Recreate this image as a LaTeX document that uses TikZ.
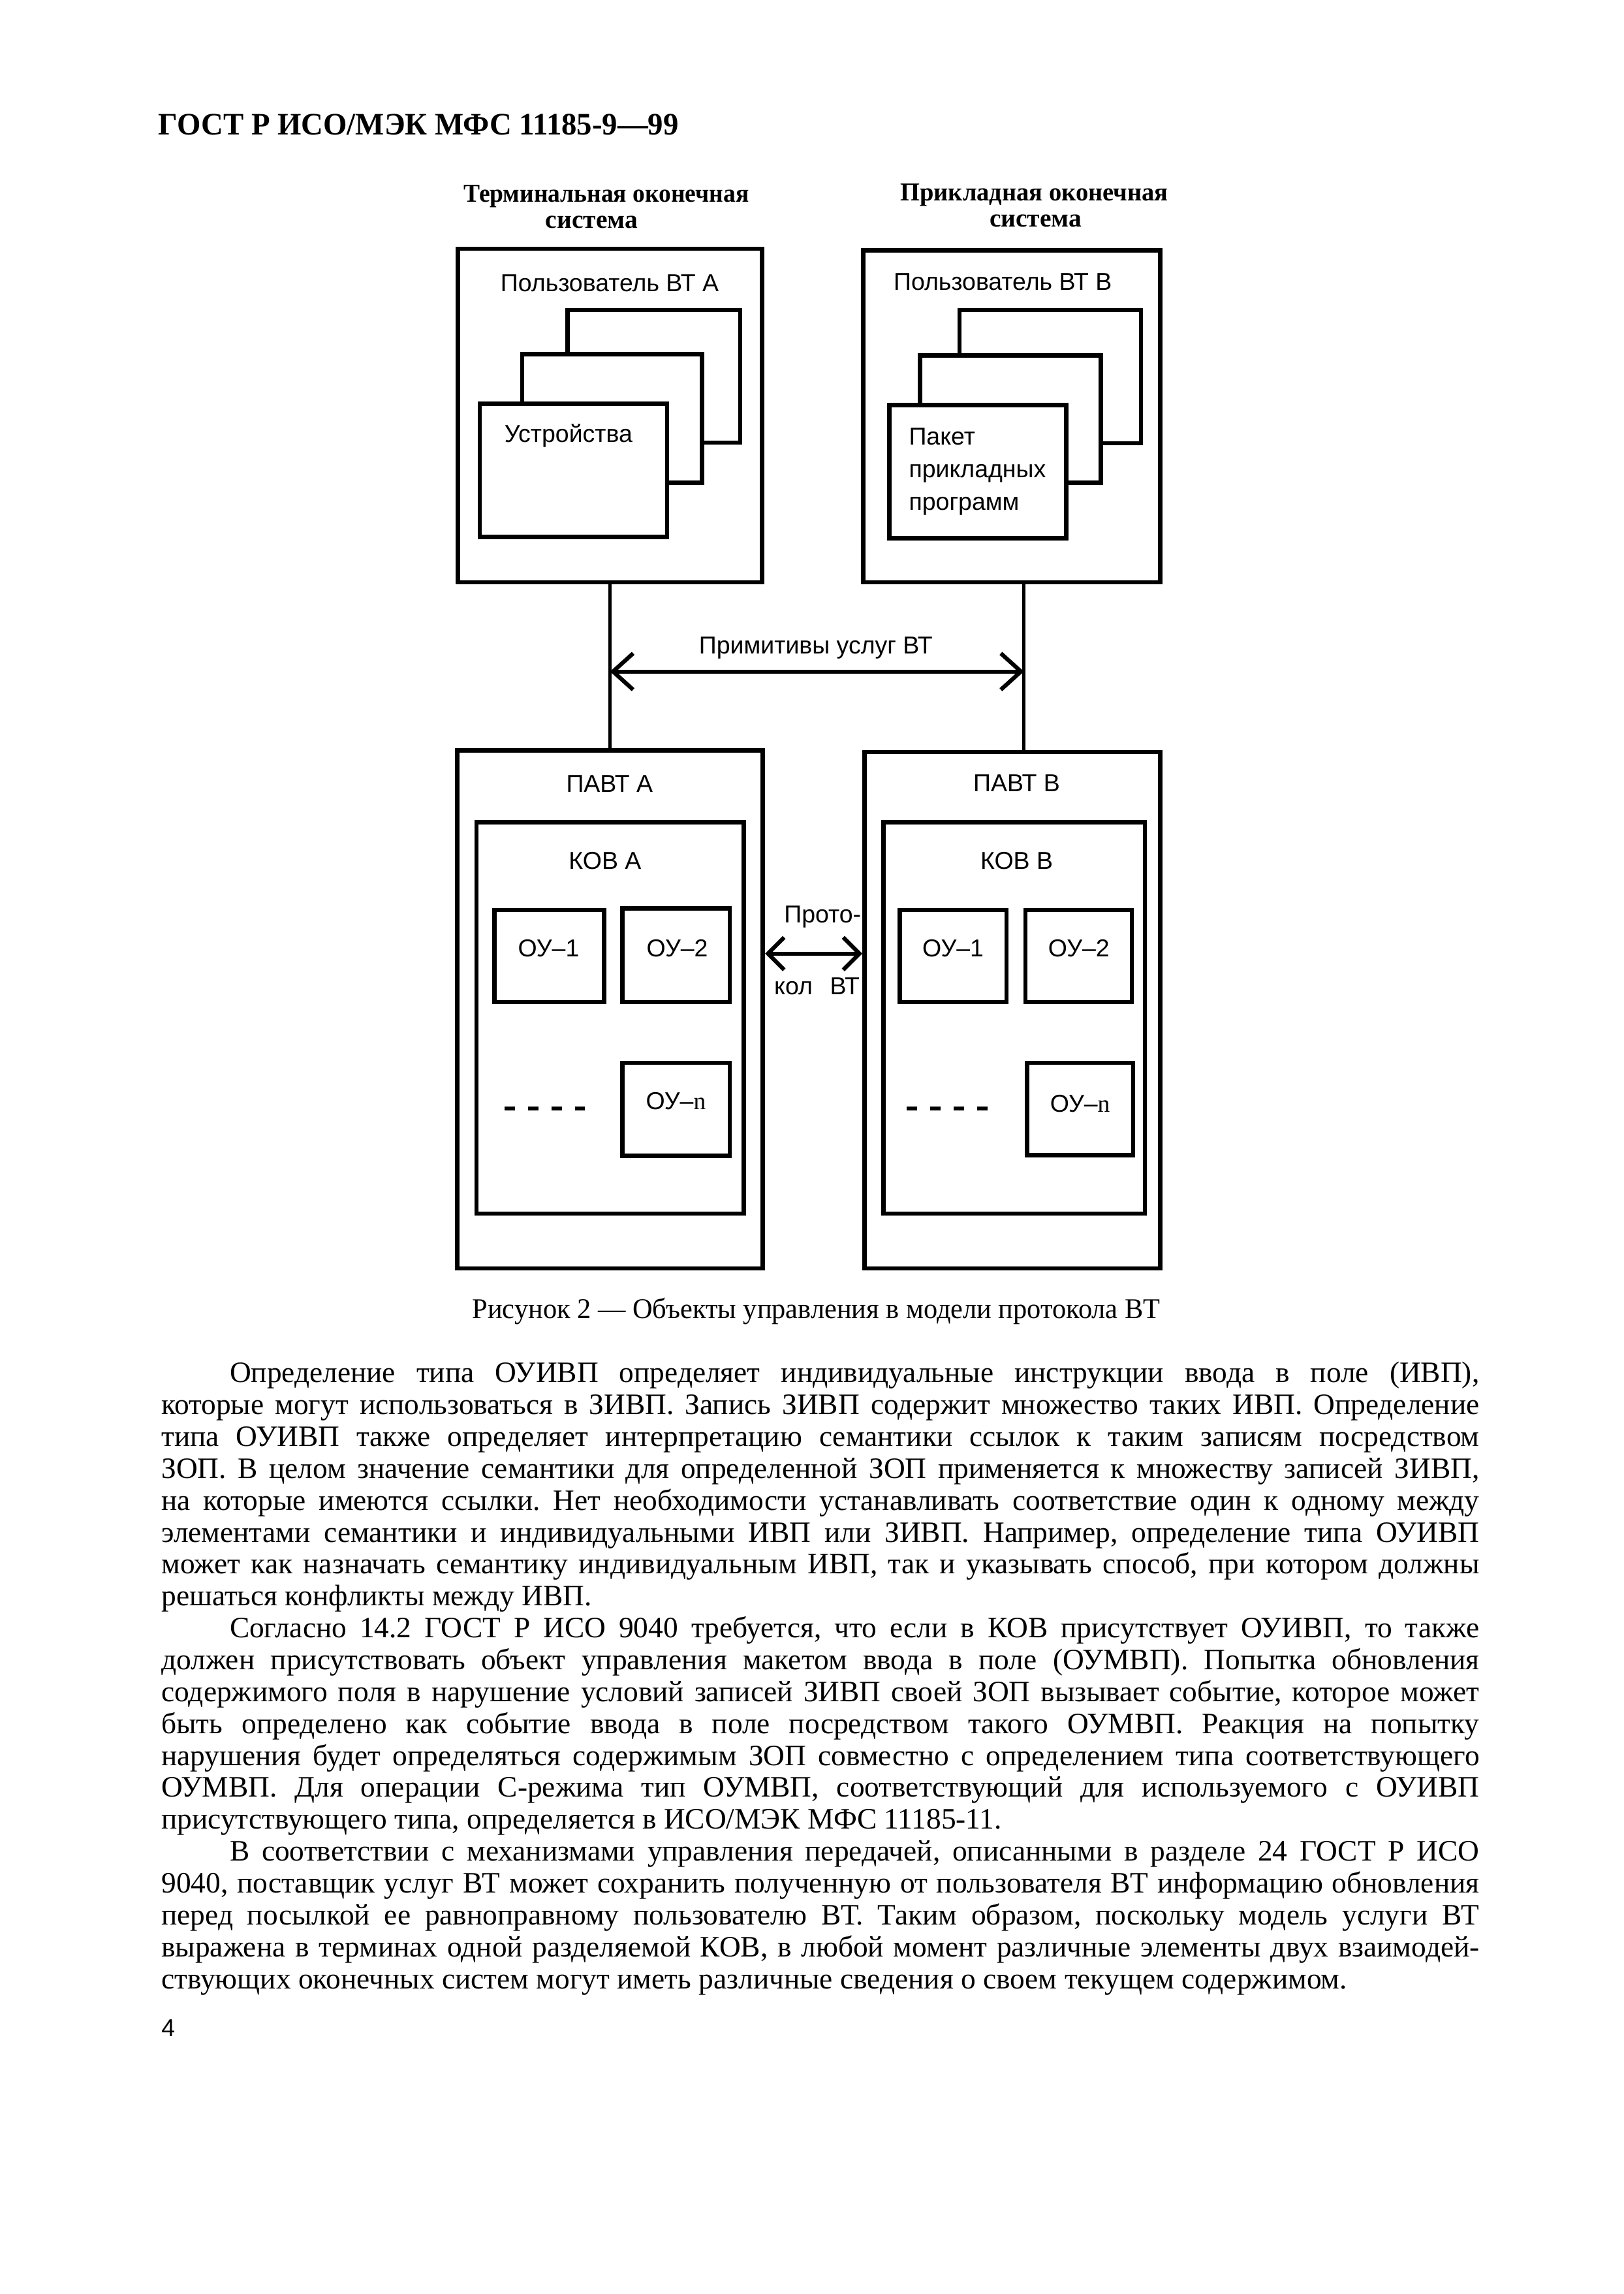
\documentclass[tikz,border=0pt]{standalone}
\usepackage{fontspec}
\setmainfont{Liberation Serif}
\setsansfont{Liberation Sans}
\usepackage{graphicx}
\usetikzlibrary{arrows.meta,fit}
\frenchspacing
\newlength\twfull \setlength\twfull{170.46mm}
\newlength\twind \setlength\twind{161.62mm}
\newsavebox\lnbox
\newcommand\jl[2]{\sbox\lnbox{#2}\ifdim\wd\lnbox>#1\relax\resizebox{#1}{\height}{\usebox\lnbox}\else\makebox[#1][s]{#2}\fi}
\newcommand\fitw[2]{\resizebox{#1}{\height}{#2}}
\begin{document}
\begin{tikzpicture}[x=0.18919mm,y=-0.18919mm,
  box/.style={draw,line width=1.6pt,inner sep=0pt,fill=white},
  conn/.style={line width=1.2pt},
  arr/.style={line width=1.5pt,{Straight Barb[length=2.6mm,width=4.7mm]}-{Straight Barb[length=2.6mm,width=4.7mm]}},
  parr/.style={line width=1.5pt,{Straight Barb[length=2.1mm,width=4.2mm]}-{Straight Barb[length=2.1mm,width=4.2mm]}},
  lab/.style={font=\sffamily\fontsize{9}{11}\selectfont,inner sep=0pt},
  hd/.style={font=\bfseries\fontsize{9.5}{11}\selectfont,inner sep=0pt,anchor=base},
  body/.style={font=\fontsize{10.9}{12}\selectfont,inner sep=0pt,anchor=base west}]
\useasboundingbox (0,0) rectangle (1110,1568);
\fill[white] (0,0) rectangle (1110,1568);

% page header
\node[inner sep=0pt,anchor=base west,font=\bfseries\fontsize{11.5}{13}\selectfont] (gost) at (108,92.2) {\fitw{67.27mm}{ГОСТ Р ИСО/МЭК МФС 11185-9—99}};

% column headers
\node[hd] (hA1) at (414.5,138.3) {\fitw{36.89mm}{Терминальная оконечная}};
\node[hd] (hA2) at (404.5,156) {система};
\node[hd] (hB1) at (707,137) {\fitw{34.62mm}{Прикладная оконечная}};
\node[hd] (hB2) at (708,155) {система};

% user boxes
\node[box,fit={(313,170) (521,398)}] (userA) {};
\node[box,fit={(590,171) (793,398)}] (userB) {};
\node[lab,anchor=base] (uAt) at (416.8,199.4) {Пользователь ВТ А};
\node[lab,anchor=base] (uBt) at (685.5,198.5) {Пользователь ВТ В};

% stacked boxes A
\node[box,fit={(388,212) (506,302.5)}] (sA3) {};
\node[box,fit={(357,242) (480,330)}] (sA2) {};
\node[box,fit={(328,276) (456,367)}] (sA1) {};
\node[lab,anchor=base west] (dev) at (344.5,302.5) {Устройства};

% stacked boxes B
\node[box,fit={(656,212) (780,303)}] (sB3) {};
\node[box,fit={(629,243) (752.5,330)}] (sB2) {};
\node[box,fit={(608,277) (729,368)}] (sB1) {};
\node[lab,anchor=base west] (pk1) at (621,304.3) {Пакет};
\node[lab,anchor=base west] (pk2) at (621,326.6) {прикладных};
\node[lab,anchor=base west] (pk3) at (621,348.7) {программ};

% PAVT boxes
\node[box,fit={(312.5,513) (521.5,867)}] (pavtA) {};
\node[box,fit={(591,514) (793,867)}] (pavtB) {};
\node[lab,anchor=base] (pAt) at (416.7,541.3) {ПАВТ А};
\node[lab,anchor=base] (pBt) at (695,541) {ПАВТ В};

% KOV boxes
\node[box,fit={(325.7,562) (508.4,829.5)}] (kovA) {};
\node[box,fit={(604,562) (782.6,829.5)}] (kovB) {};
\node[lab,anchor=base] (kAt) at (413.6,594) {КОВ А};
\node[lab,anchor=base] (kBt) at (695,594) {КОВ В};

% OY boxes A
\node[box,fit={(338,622) (413,685)}] (a1) {};
\node[box,fit={(425.6,621) (498.8,685)}] (a2) {};
\node[box,fit={(425.6,726.5) (498.8,790)}] (an) {};
\node[lab,anchor=base] (a1t) at (375,654) {ОУ–1};
\node[lab,anchor=base] (a2t) at (463,654) {ОУ–2};
\node[lab,anchor=base] (ant) at (462,758.5) {ОУ–{\rmfamily n}};
\coordinate (dA1) at (345,757.6);
\coordinate (dA2) at (401,757.6);
\draw[line width=1.3pt,dash pattern=on 1.34mm off 1.68mm] (dA1) -- (dA2);

% OY boxes B
\node[box,fit={(615,622) (688,685)}] (b1) {};
\node[box,fit={(701,622) (773.7,685)}] (b2) {};
\node[box,fit={(702,726.5) (774.6,789.5)}] (bn) {};
\node[lab,anchor=base] (b1t) at (651.5,654) {ОУ–1};
\node[lab,anchor=base] (b2t) at (737.5,654) {ОУ–2};
\node[lab,anchor=base] (bnt) at (738.3,760) {ОУ–{\rmfamily n}};
\coordinate (dB1) at (620,757.6);
\coordinate (dB2) at (676,757.6);
\draw[line width=1.3pt,dash pattern=on 1.34mm off 1.68mm] (dB1) -- (dB2);

% connectors
\coordinate (cA) at (417,0);
\coordinate (cB) at (700,0);
\coordinate (ay) at (0,459);
\coordinate (py) at (0,651.8);
\draw[conn] (userA.south -| cA) -- (pavtA.north -| cA);
\draw[conn] (userB.south -| cB) -- (pavtB.north -| cB);
\draw[arr] (cA |- ay) -- (cB |- ay);
\node[lab,anchor=base] (prim) at (557.7,447) {Примитивы услуг ВТ};
\draw[parr] (pavtA.east |- py) -- (pavtB.west |- py);
\node[lab,anchor=base east] (pr1) at (589,630.8) {Прото-};
\node[lab,anchor=base east] (pr2) at (588,680) {кол\hspace{6.4pt}ВТ};

% caption
\node[inner sep=0pt,anchor=base,font=\fontsize{10.5}{12}\selectfont] (cap) at (557.9,901) {\fitw{88.92mm}{Рисунок 2 — Объекты управления в модели протокола ВТ}};

% paragraph 1
\node[body] (l1) at (156.7,945.0) {\jl{\twind}{Определение типа ОУИВП определяет индивидуальные инструкции ввода в поле (ИВП),}};
\node[body] (l2) at (110,966.8) {\jl{\twfull}{которые могут использоваться в ЗИВП. Запись ЗИВП содержит множество таких ИВП. Определение}};
\node[body] (l3) at (110,988.6) {\jl{\twfull}{типа ОУИВП также определяет интерпретацию семантики ссылок к таким записям посредством}};
\node[body] (l4) at (110,1010.4) {\jl{\twfull}{ЗОП. В целом значение семантики для определенной ЗОП применяется к множеству записей ЗИВП,}};
\node[body] (l5) at (110,1032.2) {\jl{\twfull}{на которые имеются ссылки. Нет необходимости устанавливать соответствие один к одному между}};
\node[body] (l6) at (110,1054.0) {\jl{\twfull}{элементами семантики и индивидуальными ИВП или ЗИВП. Например, определение типа ОУИВП}};
\node[body] (l7) at (110,1075.8) {\jl{\twfull}{может как назначать семантику индивидуальным ИВП, так и указывать способ, при котором должны}};
\node[body] (l8) at (110,1097.6) {решаться конфликты между ИВП.};

% paragraph 2
\node[body] (l9) at (156.7,1119.4) {\jl{\twind}{Согласно 14.2 ГОСТ Р ИСО 9040 требуется, что если в КОВ присутствует ОУИВП, то также}};
\node[body] (l10) at (110,1141.2) {\jl{\twfull}{должен присутствовать объект управления макетом ввода в поле (ОУМВП). Попытка обновления}};
\node[body] (l11) at (110,1163.0) {\jl{\twfull}{содержимого поля в нарушение условий записей ЗИВП своей ЗОП вызывает событие, которое может}};
\node[body] (l12) at (110,1184.8) {\jl{\twfull}{быть определено как событие ввода в поле посредством такого ОУМВП. Реакция на попытку}};
\node[body] (l13) at (110,1206.6) {\jl{\twfull}{нарушения будет определяться содержимым ЗОП совместно с определением типа соответствующего}};
\node[body] (l14) at (110,1228.4) {\jl{\twfull}{ОУМВП. Для операции С-режима тип ОУМВП, соответствующий для используемого с ОУИВП}};
\node[body] (l15) at (110,1250.2) {присутствующего типа, определяется в ИСО/МЭК МФС 11185-11.};

% paragraph 3
\node[body] (l16) at (156.7,1272.0) {\jl{\twind}{В соответствии с механизмами управления передачей, описанными в разделе 24 ГОСТ Р ИСО}};
\node[body] (l17) at (110,1293.8) {\jl{\twfull}{9040, поставщик услуг ВТ может сохранить полученную от пользователя ВТ информацию обновления}};
\node[body] (l18) at (110,1315.6) {\jl{\twfull}{перед посылкой ее равноправному пользователю ВТ. Таким образом, поскольку модель услуги ВТ}};
\node[body] (l19) at (110,1337.4) {\jl{\twfull}{выражена в терминах одной разделяемой КОВ, в любой момент различные элементы двух взаимодей-}};
\node[body] (l20) at (110,1359.2) {ствующих оконечных систем могут иметь различные сведения о своем текущем содержимом.};

% page number
\node[lab,anchor=base west] (pg) at (110,1392) {4};
\end{tikzpicture}
\end{document}
